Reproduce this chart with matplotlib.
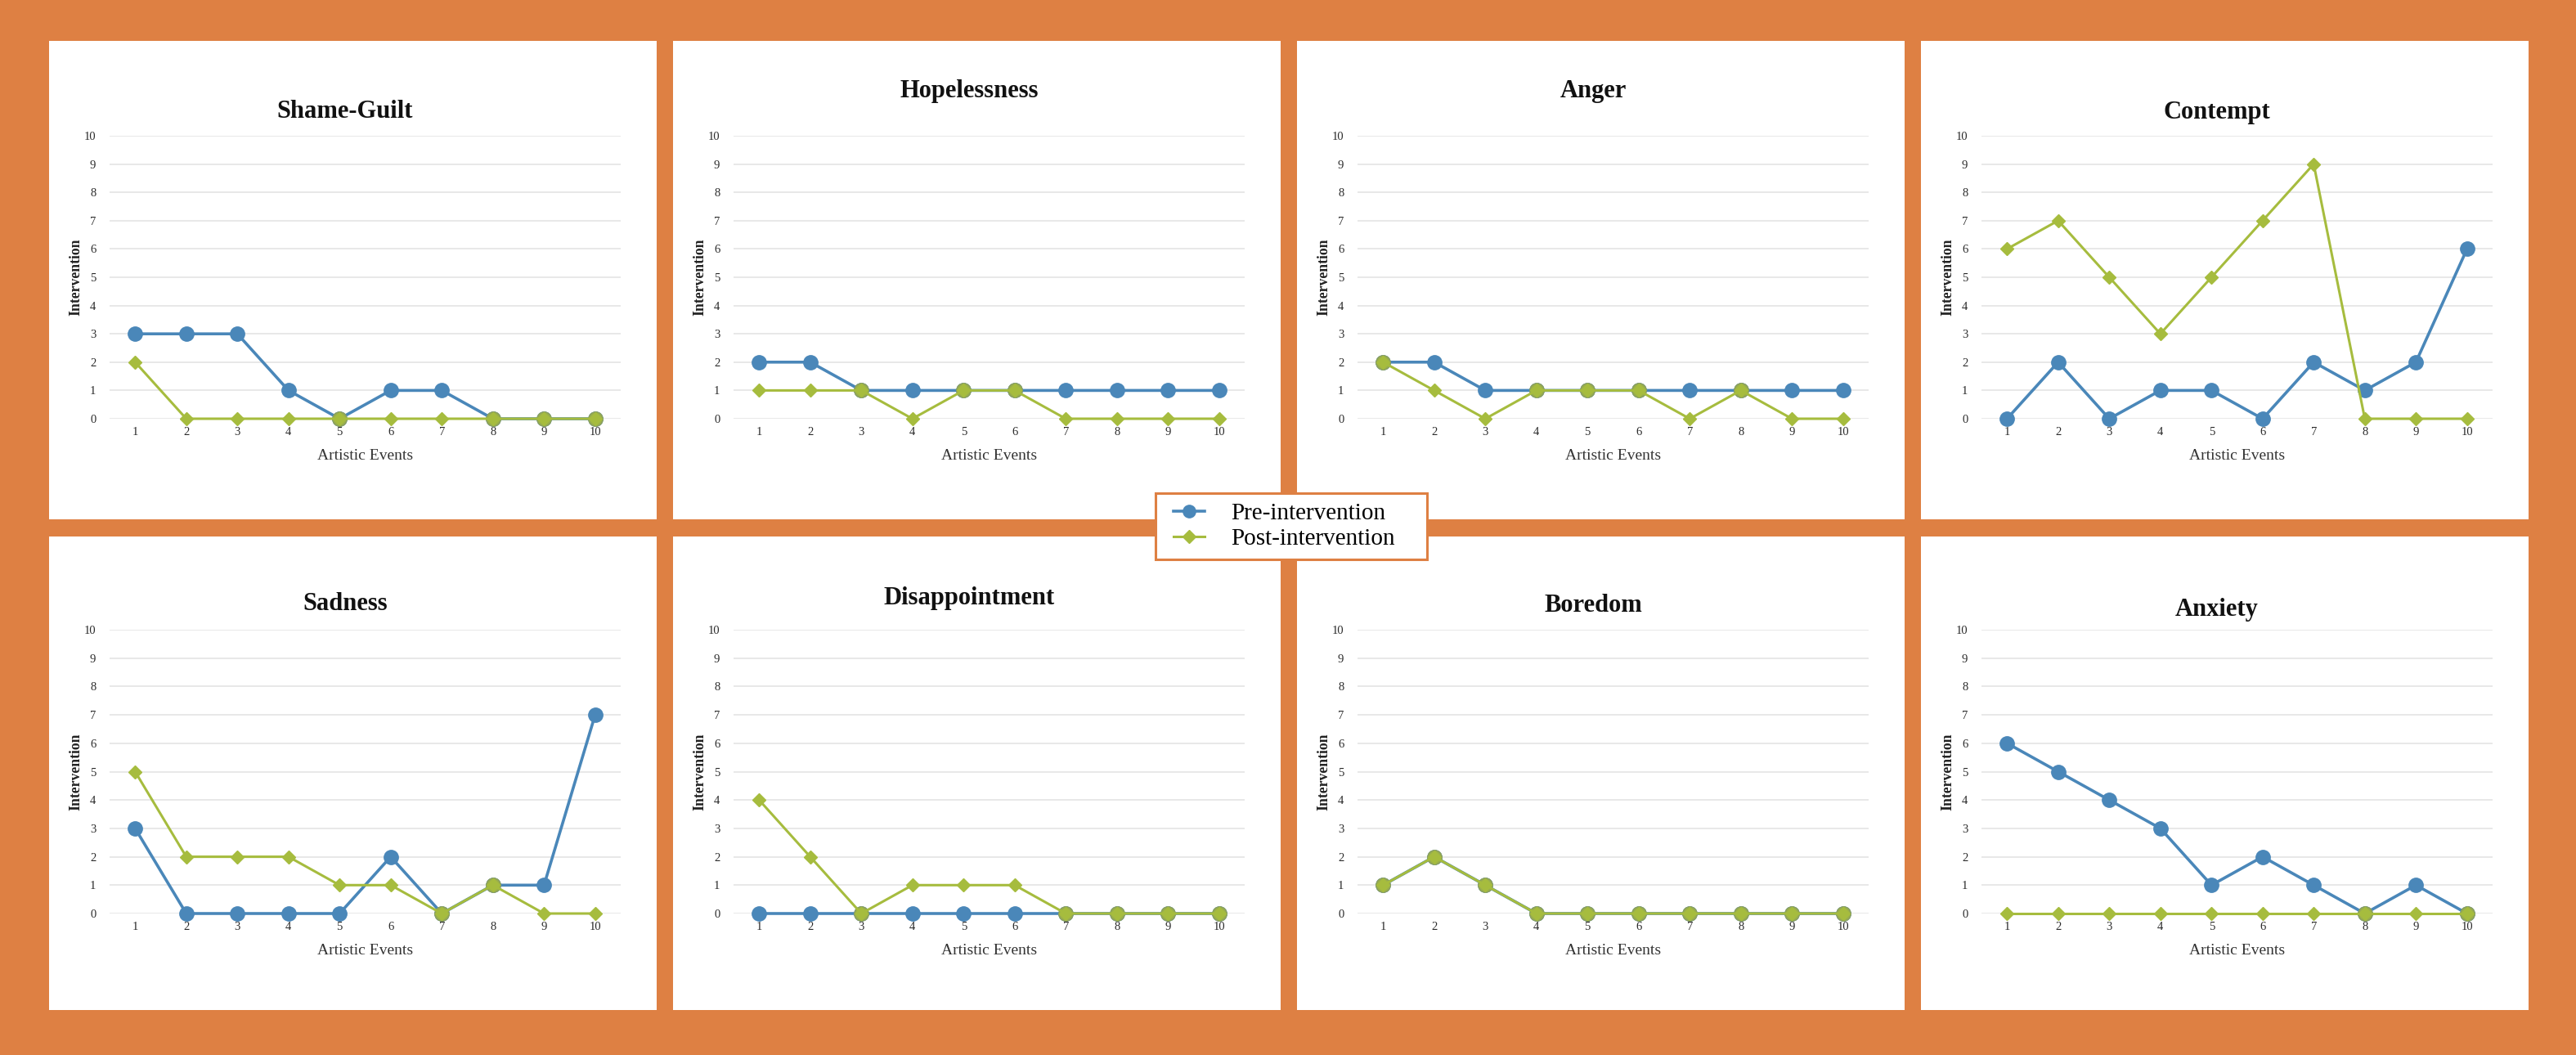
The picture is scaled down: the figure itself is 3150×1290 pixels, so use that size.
import numpy as np
import matplotlib
matplotlib.use('Agg')
import matplotlib.pyplot as plt
from matplotlib.patches import Rectangle
from matplotlib.lines import Line2D

plt.rcParams['font.family'] = ['Liberation Serif', 'DejaVu Serif']

# data
events = [1, 2, 3, 4, 5, 6, 7, 8, 9, 10]
titles = ['Shame-Guilt', 'Hopelessness', 'Anger', 'Contempt',
          'Sadness', 'Disappointment', 'Boredom', 'Anxiety']

shame_pre = [3, 3, 3, 1, 0, 1, 1, 0, 0, 0]
shame_post = [2, 0, 0, 0, 0, 0, 0, 0, 0, 0]
hopeless_pre = [2, 2, 1, 1, 1, 1, 1, 1, 1, 1]
hopeless_post = [1, 1, 1, 0, 1, 1, 0, 0, 0, 0]
anger_pre = [2, 2, 1, 1, 1, 1, 1, 1, 1, 1]
anger_post = [2, 1, 0, 1, 1, 1, 0, 1, 0, 0]
contempt_pre = [0, 2, 0, 1, 1, 0, 2, 1, 2, 6]
contempt_post = [6, 7, 5, 3, 5, 7, 9, 0, 0, 0]
sadness_pre = [3, 0, 0, 0, 0, 2, 0, 1, 1, 7]
sadness_post = [5, 2, 2, 2, 1, 1, 0, 1, 0, 0]
disapp_pre = [0, 0, 0, 0, 0, 0, 0, 0, 0, 0]
disapp_post = [4, 2, 0, 1, 1, 1, 0, 0, 0, 0]
boredom_pre = [1, 2, 1, 0, 0, 0, 0, 0, 0, 0]
boredom_post = [1, 2, 1, 0, 0, 0, 0, 0, 0, 0]
anxiety_pre = [6, 5, 4, 3, 1, 2, 1, 0, 1, 0]
anxiety_post = [0, 0, 0, 0, 0, 0, 0, 0, 0, 0]

pre_series = [shame_pre, hopeless_pre, anger_pre, contempt_pre,
              sadness_pre, disapp_pre, boredom_pre, anxiety_pre]
post_series = [shame_post, hopeless_post, anger_post, contempt_post,
               sadness_post, disapp_post, boredom_post, anxiety_post]

ORANGE = '#DE8043'
BLUE = '#4A87B9'
GREEN = '#A6BC3E'
MIXED = '#99AE4E'   # look of a blue circle under a green diamond

W, H = 3150, 1290
fig = plt.figure(figsize=(W / 100, H / 100), dpi=100, facecolor=ORANGE)


def fbox(x, y, w, h):
    # pixel box (top-left origin) -> figure fraction
    return [x / W, 1 - (y + h) / H, w / W, h / H]


col_left = [60, 823, 1586, 2349]
row_top = [50, 656]
row_h = [585, 579]
panel_w = 743
ax_top = [116, 114]
ax_bot = [462, 461]
title_y = [86, 61, 62, 87, 83, 75, 85, 89]

for i in range(8):
    r, c = divmod(i, 4)
    px, py = col_left[c], row_top[r]
    fig.add_artist(Rectangle((px / W, 1 - (py + row_h[r]) / H), panel_w / W, row_h[r] / H,
                             transform=fig.transFigure, facecolor='white',
                             edgecolor='none', zorder=0))

    ax = fig.add_axes(fbox(px + 74, py + ax_top[r], 625, ax_bot[r] - ax_top[r]))
    ax.set_facecolor('none')
    pre = np.array(pre_series[i])
    post = np.array(post_series[i])
    x = np.array(events)
    ax.plot(x, pre, color=BLUE, lw=2.6, marker='o', ms=12.5,
            mec=BLUE, mfc=BLUE, zorder=3, clip_on=False)
    same = pre == post
    ax.plot(x[same], pre[same], ls='none', marker='o', ms=12.5,
            mec='#8FA25A', mfc=MIXED, zorder=3.5, clip_on=False)
    ax.plot(x, post, color=GREEN, lw=2.2, marker='D', ms=8.5,
            mec=GREEN, mfc=GREEN, zorder=4, clip_on=False)

    ax.set_xlim(0.5, 10.5)
    ax.set_ylim(0, 10)
    ax.set_xticks(events)
    ax.set_yticks(range(0, 11))
    ax.grid(axis='y', color='#E4E4E4', lw=1.2)
    ax.set_axisbelow(True)
    for s in ax.spines.values():
        s.set_visible(False)
    ax.tick_params(length=0, labelsize=10.5, colors='#2A2A2A')
    ax.tick_params(axis='y', pad=12)
    ax.tick_params(axis='x', pad=7)
    ax.set_ylabel('Intervention', fontsize=12.7, fontweight='bold', color='#222222')
    ax.yaxis.set_label_coords(-0.052, 0.5)
    ax.set_xlabel('Artistic Events', fontsize=14, color='#333333')
    ax.xaxis.set_label_coords(0.5, -0.107)

    fig.text((px + 362) / W, 1 - (py + title_y[i]) / H, titles[i],
             fontsize=22, fontweight='bold', ha='center', va='center', color='#111111')

# legend box in the middle of the grid
fig.add_artist(Rectangle((1413 / W, 1 - 684 / H), 332 / W, 81 / H,
                         transform=fig.transFigure, facecolor='white',
                         edgecolor=ORANGE, lw=2.2, zorder=9))
handles = [Line2D([], [], color=BLUE, lw=2.6, marker='o', ms=11),
           Line2D([], [], color=GREEN, lw=2.2, marker='D', ms=8)]
leg = fig.legend(handles, ['Pre-intervention', 'Post-intervention'],
                 loc='center left', bbox_to_anchor=(1435 / W, 1 - 643.5 / H),
                 fontsize=21, frameon=False, handlelength=1.3,
                 handletextpad=1.1, borderpad=0.0, labelspacing=0.15,
                 borderaxespad=0)
leg.set_zorder(10)

fig.savefig('out.png', dpi=100, facecolor=ORANGE)
